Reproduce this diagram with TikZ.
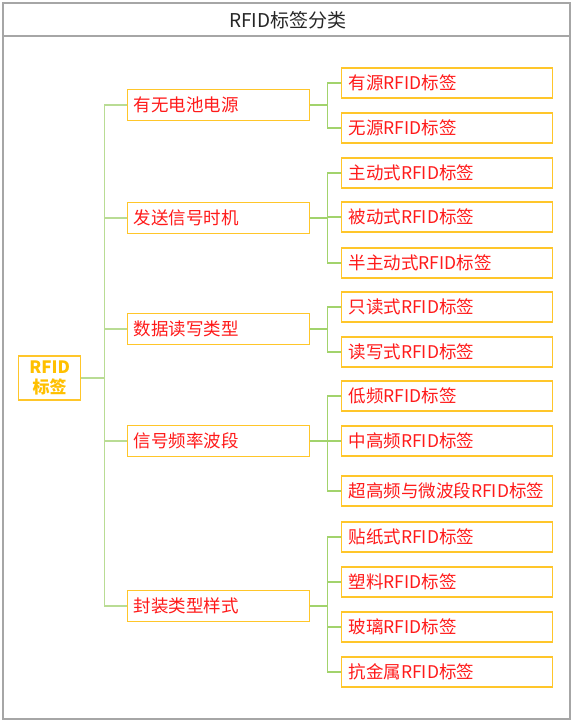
\documentclass[tikz,border=0pt]{standalone}
\usepackage{fontspec}
\setmainfont{Noto Sans CJK SC}
\definecolor{framegray}{HTML}{A6A6A6}
\definecolor{titlegray}{HTML}{262626}
\definecolor{boxgold}{HTML}{FFC62A}
\definecolor{txtred}{HTML}{FF1A1A}
\definecolor{rootgold}{HTML}{FFC000}
\definecolor{linegreen}{HTML}{B9DC94}
\definecolor{linegreenb}{HTML}{A2D36C}
\tikzset{
  lvlone/.style={draw=boxgold, line width=1.4pt, fill=white, anchor=west,
    minimum height=31pt, inner xsep=6pt, inner ysep=0pt, text width=170pt, align=left,
    text=txtred, font=\fontsize{17.5}{20}\selectfont},
  lvltwo/.style={draw=boxgold, line width=1.4pt, fill=white, anchor=west,
    minimum height=30pt, inner xsep=7pt, inner ysep=0pt, text width=197pt, align=left,
    text=txtred, font=\fontsize{17.5}{20}\selectfont},
  rootbox/.style={draw=boxgold, line width=1.4pt, fill=white, anchor=west,
    minimum width=62pt, minimum height=44pt, inner sep=0pt, align=center,
    text=rootgold, font=\fontsize{17}{20}\selectfont\bfseries},
  trunk/.style={draw=linegreen, line width=1.4pt},
  twig/.style={draw=linegreenb, line width=1.4pt}
}
\begin{document}
\begin{tikzpicture}[x=1pt,y=-1pt]
\useasboundingbox (0,0) rectangle (576,724);
\draw[framegray, line width=1.2pt] (3,3) rectangle (570,719);
\draw[framegray, line width=1.2pt] (3,36) -- (570,36);
\node[text=titlegray, font=\fontsize{19}{22}\selectfont] (title) at (288,20) {RFID标签分类};

\node[rootbox] (root) at (18,378) {RFID\\标签};

\node[lvlone] (a) at (127,105) {有无电池电源};
\node[lvlone] (b) at (127,218) {发送信号时机};
\node[lvlone] (c) at (127,329) {数据读写类型};
\node[lvlone] (d) at (127,441) {信号频率波段};
\node[lvlone] (e) at (127,606) {封装类型样式};

\node[lvltwo] (a1) at (341,83) {有源RFID标签};
\node[lvltwo] (a2) at (341,128) {无源RFID标签};
\node[lvltwo] (b1) at (341,173) {主动式RFID标签};
\node[lvltwo] (b2) at (341,217) {被动式RFID标签};
\node[lvltwo] (b3) at (341,263) {半主动式RFID标签};
\node[lvltwo] (c1) at (341,307) {只读式RFID标签};
\node[lvltwo] (c2) at (341,352) {读写式RFID标签};
\node[lvltwo] (d1) at (341,396) {低频RFID标签};
\node[lvltwo] (d2) at (341,441) {中高频RFID标签};
\node[lvltwo] (d3) at (341,491) {超高频与微波段RFID标签};
\node[lvltwo] (e1) at (341,537) {贴纸式RFID标签};
\node[lvltwo] (e2) at (341,582) {塑料RFID标签};
\node[lvltwo] (e3) at (341,627) {玻璃RFID标签};
\node[lvltwo] (e4) at (341,672) {抗金属RFID标签};

\foreach \p in {a,b,c,d,e}
  \draw[trunk] (root.east) -- ++(23,0) |- (\p.west);

\foreach \p/\c in {a/a1,a/a2,b/b1,b/b2,b/b3,c/c1,c/c2,d/d1,d/d2,d/d3,e/e1,e/e2,e/e3,e/e4}
  \draw[twig] (\p.east) -- ++(17,0) |- (\c.west);
\end{tikzpicture}
\end{document}
